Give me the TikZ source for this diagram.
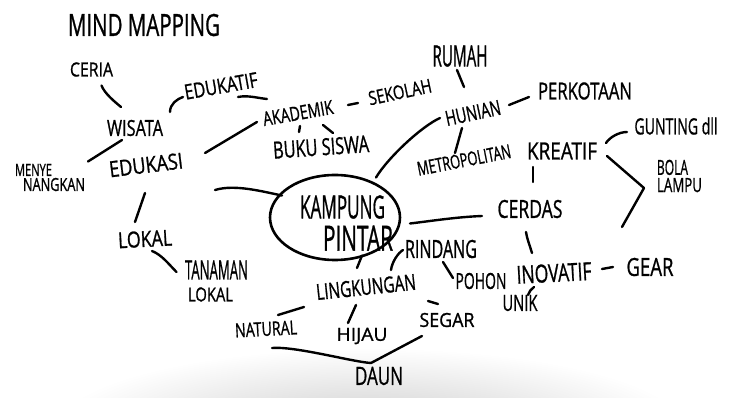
\documentclass[tikz,border=0pt]{standalone}
\usepackage{fontspec}
\setmainfont{Open Sans}[FakeBold=1.1]
\usepackage{graphicx}
\usetikzlibrary{shapes.geometric}
\newcommand{\hw}[3]{\resizebox{#1pt}{#2pt}{#3}}
\tikzset{
  txt/.style={inner sep=0pt, font=\fontsize{10}{10}\selectfont},
  conn/.style={line width=2.4pt, line cap=round, line join=round},
  hub/.style={draw, ellipse, line width=2.6pt, minimum width=130pt, minimum height=85pt, inner sep=0pt},
}
\begin{document}
\begin{tikzpicture}[x=1pt,y=-1pt]
\useasboundingbox (0,0) rectangle (740,398);
\fill[white] (0,0) rectangle (740,398);
\begin{scope}
  \clip (0,0) rectangle (740,398);
  \shade[inner color=black!20, outer color=white] (370,432) ellipse [x radius=320pt, y radius=84pt];
\end{scope}

% nodes
\node[txt] (title) at (144,25) {\hw{152}{22}{MIND MAPPING}};
\node[txt] (ceria) at (91.5,69.5) {\hw{43}{14}{CERIA}};
\node[txt, rotate=10] (edukatif) at (221,86) {\hw{74}{15}{EDUKATIF}};
\node[txt] (wisata) at (135,128) {\hw{56}{16}{WISATA}};
\node[txt, rotate=10] (akademik) at (298,113) {\hw{71}{14}{AKADEMIK}};
\node[txt, rotate=12] (sekolah) at (400,92) {\hw{64}{14}{SEKOLAH}};
\node[txt, rotate=4] (bukusiswa) at (321,147) {\hw{96}{17}{BUKU SISWA}};
\node[txt, align=left] (menye) at (50,177.5) {\hw{37}{12}{MENYE}\\[1pt]\hspace*{8pt}\hw{62}{13}{NANGKAN}};
\node[txt, rotate=7] (edukasi) at (146,165) {\hw{74}{16}{EDUKASI}};
\node[txt, rotate=3] (lokal) at (145,239) {\hw{54}{16}{LOKAL}};
\node[txt, align=left] (tanaman) at (216.5,281) {\hw{63}{19}{TANAMAN}\\[7pt]\hspace*{3pt}\hw{45}{14}{LOKAL}};
\node[txt, rotate=3] (natural) at (266,329) {\hw{62}{14}{NATURAL}};
\node[txt, rotate=6] (lingkungan) at (366,287) {\hw{100}{16}{LINGKUNGAN}};
\node[txt] (hijau) at (362,336) {\hw{51}{13}{HIJAU}};
\node[txt] (segar) at (447,320) {\hw{55}{14}{SEGAR}};
\node[txt] (daun) at (379,376) {\hw{48}{18}{DAUN}};
\node[txt] (rumah) at (460,56) {\hw{55}{21}{RUMAH}};
\node[txt, rotate=12] (hunian) at (473,113) {\hw{56}{15}{HUNIAN}};
\node[txt] (perkotaan) at (585,91) {\hw{94}{17}{PERKOTAAN}};
\node[txt, rotate=11] (metropolitan) at (464,160) {\hw{95}{14}{METROPOLITAN}};
\node[txt] (kreatif) at (562,151) {\hw{70}{17}{KREATIF}};
\node[txt] (gunting) at (676,126) {\hw{83}{17}{GUNTING dll}};
\node[txt, align=left] (bolalampu) at (679.5,176) {\hw{31}{15}{BOLA}\\[2pt]\hw{45}{14}{LAMPU}};
\node[txt] (cerdas) at (530,209) {\hw{65}{18}{CERDAS}};
\node[txt] (rindang) at (441,249) {\hw{72}{18}{RINDANG}};
\node[txt] (pohon) at (481,281) {\hw{51}{16}{POHON}};
\node[txt, rotate=3] (inovatif) at (554,273) {\hw{75}{18}{INOVATIF}};
\node[txt] (gear) at (650,267) {\hw{47}{18}{GEAR}};
\node[txt] (unik) at (520,303) {\hw{35}{16}{UNIK}};
\node[hub] (kampung) at (335,217.5) {};
\node[txt, align=left] (kampungtext) at (346.5,223) {\hw{85}{23}{KAMPUNG}\\[6pt]\hspace*{23pt}\hw{70}{25}{PINTAR}};

% connectors
\draw[conn] ([shift={(10,16)}]ceria.center) .. controls +(3,8) and +(-6,-5) .. ([shift={(-14,-21)}]wisata.center);
\draw[conn] ([shift={(35,-16)}]wisata.center) .. controls +(0,-8) and +(-6,2) .. ([shift={(-38,11)}]edukatif.center);
\draw[conn] ([shift={(17,11)}]edukatif.center) .. controls +(10,-2) and +(-10,-1) .. ([shift={(-31,-14)}]akademik.center);
\draw[conn] ([shift={(50,-8)}]akademik.center) -- ([shift={(-42,11)}]sekolah.center);
\draw[conn] ([shift={(2,13)}]akademik.center) -- ([shift={(-22,-15)}]bukusiswa.center);
\draw[conn] ([shift={(25,12)}]akademik.center) -- ([shift={(12,-14)}]bukusiswa.center);
\draw[conn] ([shift={(38,-16)}]menye.center) -- ([shift={(-13,12)}]wisata.center);
\draw[conn] ([shift={(59,-12)}]edukasi.center) -- ([shift={(-41,9)}]akademik.center);
\draw[conn] ([shift={(69,25)}]edukasi.center) .. controls +(20,-6) and +(-20,-4) .. ([shift={(-53,-22)}]kampung.center);
\draw[conn] ([shift={(-1,28)}]edukasi.center) -- ([shift={(-10,-17)}]lokal.center);
\draw[conn] ([shift={(7,12)}]lokal.center) .. controls +(10,4) and +(-8,-8) .. ([shift={(-40,-9)}]tanaman.center);
\draw[conn] ([shift={(27,38)}]kampung.center) -- ([shift={(-9,-19)}]lingkungan.center);
\draw[conn] ([shift={(-62,20)}]lingkungan.center) -- ([shift={(12,-14)}]natural.center);
\draw[conn] ([shift={(-10,18)}]lingkungan.center) -- ([shift={(-14,-13)}]hijau.center);
\draw[conn] ([shift={(62,14)}]lingkungan.center) -- ([shift={(-9,-16)}]segar.center);
\draw[conn] ([shift={(6,19)}]natural.center) .. controls +(23,-2) and +(-18,-1) .. ([shift={(-8,-13)}]daun.center) -- ([shift={(-25,16)}]segar.center);
\draw[conn] ([shift={(75,6)}]kampung.center) .. controls +(25,-3) and +(-25,1) .. ([shift={(-48,7)}]cerdas.center);
\draw[conn] ([shift={(41,-40)}]kampung.center) .. controls +(12,-20) and +(-18,8) .. ([shift={(-33,5)}]hunian.center);
\draw[conn] ([shift={(-3,14)}]rumah.center) -- ([shift={(-9,-26)}]hunian.center);
\draw[conn] ([shift={(36,-8)}]hunian.center) -- ([shift={(-56,6)}]perkotaan.center);
\draw[conn] ([shift={(-11,15)}]hunian.center) -- ([shift={(-9,-7)}]metropolitan.center);
\draw[conn] ([shift={(-29,16)}]kreatif.center) -- ([shift={(3,-27)}]cerdas.center);
\draw[conn] ([shift={(44,-8)}]kreatif.center) .. controls +(4,-6) and +(-8,0) .. ([shift={(-49,6)}]gunting.center);
\draw[conn] ([shift={(45,5)}]kreatif.center) -- ([shift={(-35.5,12)}]bolalampu.center) -- ([shift={(-28,-40)}]gear.center);
\draw[conn] ([shift={(-4,23)}]cerdas.center) .. controls +(1,7) and +(-2,-7) .. ([shift={(-22,-20)}]inovatif.center);
\draw[conn] ([shift={(25,-17)}]lingkungan.center) .. controls +(1,-8) and +(-5,3) .. ([shift={(-38,1)}]rindang.center);
\draw[conn] ([shift={(2,13)}]rindang.center) -- ([shift={(-28,-3)}]pohon.center);
\draw[conn] ([shift={(48,-4)}]inovatif.center) -- ([shift={(-37,0)}]gear.center);
\draw[conn] ([shift={(-20,14)}]inovatif.center) .. controls +(-3,2) and +(1,-3) .. ([shift={(8,-8)}]unik.center);
\end{tikzpicture}
\end{document}
